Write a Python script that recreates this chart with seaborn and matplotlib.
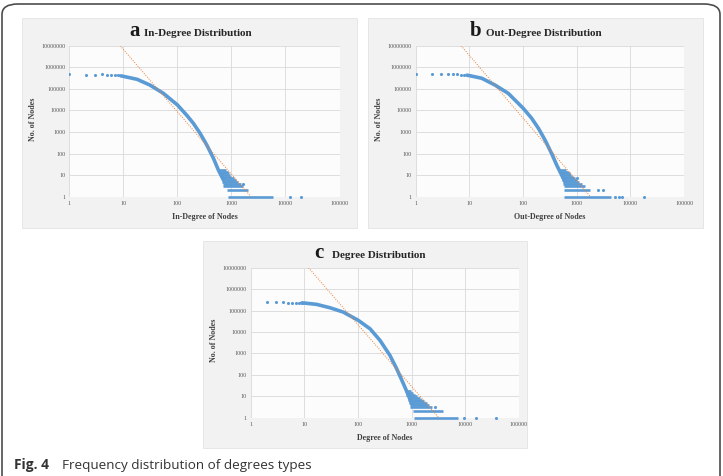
import matplotlib
matplotlib.use("Agg")
import matplotlib.pyplot as plt
import seaborn as sns
from matplotlib.patches import FancyBboxPatch

W, H = 723, 476
BLUE = "#5b9bd5"
ORANGE = "#ed7d31"

# ---- panel a : in-degree ----
a_head_x = [1, 2, 3, 4, 5, 6, 7, 8]
a_head_y = [470000, 460000, 450000, 480000, 450000, 440000, 430000, 420000]
a_curve_x = [9, 10, 18, 31, 55, 100, 148, 198, 263, 350, 465, 575, 710]
a_curve_y = [400000, 380000, 276000, 150000, 62000, 18000, 6100, 2500, 870, 250, 60, 17, 6]
a_tail_level = [1, 2, 3, 4, 5, 6, 7, 8, 10, 12, 14, 17]
a_tail_from = [860, 820, 700, 690, 680, 670, 660, 650, 630, 610, 590, 570]
a_tail_to = [5900, 2060, 1650, 1500, 1350, 1200, 1100, 1000, 950, 900, 850, 800]
a_extra_x = [12000, 19500, 1650]
a_extra_y = [1, 1, 4]
a_trend_x = [8.7, 2300]
a_trend_y = [10000000, 1]

# ---- panel b : out-degree ----
b_head_x = [1, 2, 3, 4, 5, 6, 7, 8]
b_head_y = [500000, 500000, 490000, 480000, 470000, 470000, 460000, 450000]
b_curve_x = [9, 10, 17, 30, 53, 101, 145, 194, 257, 340, 425, 525, 605]
b_curve_y = [430000, 410000, 310000, 150000, 62000, 12500, 4300, 1470, 425, 102, 29, 10, 5]
b_tail_level = [1, 2, 3, 4, 5, 6, 7, 8, 10, 12, 14, 17]
b_tail_from = [590, 590, 570, 560, 550, 540, 530, 520, 505, 490, 475, 460]
b_tail_to = [4400, 1800, 1400, 1250, 1100, 1000, 930, 870, 800, 740, 690, 640]
b_extra_x = [5200, 6100, 7000, 18200, 2500, 3150, 1000]
b_extra_y = [1, 1, 1, 1, 2, 2, 7]
b_trend_x = [7.0, 1800]
b_trend_y = [10000000, 1]

# ---- panel c : total degree ----
c_head_x = [2, 3, 4, 5, 6, 7, 8, 9]
c_head_y = [240000, 240000, 240000, 235000, 235000, 232000, 230000, 228000]
c_curve_x = [9, 10, 17, 30, 53, 101, 168, 257, 393, 525, 700, 870, 1000]
c_curve_y = [228000, 224000, 194000, 135000, 85000, 35000, 14000, 4050, 810, 193, 39, 11, 4.5]
c_tail_level = [1, 2, 3, 4, 5, 6, 7, 8, 10, 12, 14, 17]
c_tail_from = [1100, 1050, 950, 930, 910, 890, 870, 850, 820, 800, 780, 750]
c_tail_to = [7400, 3900, 2400, 2100, 1900, 1700, 1550, 1400, 1250, 1150, 1050, 980]
c_extra_x = [9600, 15500, 37000, 2700]
c_extra_y = [1, 1, 1, 3]
c_trend_x = [11.9, 3200]
c_trend_y = [10000000, 1]

x_ticks = [1, 10, 100, 1000, 10000, 100000]
y_ticks = [1, 10, 100, 1000, 10000, 100000, 1000000, 10000000]

sns.set_style("whitegrid")
plt.rcParams["font.family"] = ["Liberation Serif", "DejaVu Serif"]


def fx(x):
    return x / W


def fy(y):
    return 1 - y / H


def draw_panel(ax, head_x, head_y, curve_x, curve_y, lvl, lo, hi, ex_x, ex_y, tr_x, tr_y):
    ax.set_facecolor("#fcfcfc")
    ax.set_xscale("log")
    ax.set_yscale("log")
    ax.set_xlim(1, 100000)
    ax.set_ylim(1, 10000000)
    ax.hlines(lvl, lo, hi, color=BLUE, lw=1.9, clip_on=False, zorder=3)
    sns.lineplot(x=curve_x, y=curve_y, ax=ax, color=BLUE, lw=2.6, sort=False,
                 estimator=None, zorder=3)
    sns.scatterplot(x=head_x, y=head_y, ax=ax, color=BLUE, s=5, linewidth=0, zorder=3)
    sns.scatterplot(x=ex_x, y=ex_y, ax=ax, color=BLUE, s=5, linewidth=0, zorder=3,
                    clip_on=False)
    sns.lineplot(x=tr_x, y=tr_y, ax=ax, color=ORANGE, lw=0.7, linestyle=(0, (1, 1.5)),
                 zorder=4)
    ax.set_xticks(x_ticks)
    ax.set_xticklabels([str(t) for t in x_ticks])
    ax.set_yticks(y_ticks)
    ax.set_yticklabels([str(t) for t in y_ticks])
    ax.minorticks_off()
    ax.tick_params(length=0, labelsize=4.3, colors="#595959", pad=3)
    ax.grid(True, color="#d9d9d9", lw=0.6)
    for s in ax.spines.values():
        s.set_visible(False)
    ax.set_xlabel("")
    ax.set_ylabel("")


fig = plt.figure(figsize=(W / 100, H / 100), dpi=100)

# outer frame (open at the bottom)
fig.patches.append(FancyBboxPatch((fx(2), fy(H + 30)), fx(718), (H + 26) / H,
                                  boxstyle="round,pad=0,rounding_size=0.022",
                                  transform=fig.transFigure, facecolor="none",
                                  edgecolor="#4d4d4d", lw=1.2, zorder=-2))

panels = [
    # box (x0, y0, x1, y1), axes (x0, y0, x1, y1), letter, title, xlabel
    ((22, 18, 357, 228), (69.3, 45.7, 339.5, 196.7), "a", "In-Degree Distribution",
     "In-Degree of Nodes",
     (a_head_x, a_head_y, a_curve_x, a_curve_y, a_tail_level, a_tail_from, a_tail_to,
      a_extra_x, a_extra_y, a_trend_x, a_trend_y), 135, 144, 31),
    ((368, 18, 703, 228), (415.7, 45.7, 684, 196.7), "b", "Out-Degree Distribution",
     "Out-Degree of Nodes",
     (b_head_x, b_head_y, b_curve_x, b_curve_y, b_tail_level, b_tail_from, b_tail_to,
      b_extra_x, b_extra_y, b_trend_x, b_trend_y), 475.5, 485.7, 31),
    ((203, 241, 527, 448), (250.7, 267.7, 519, 417.7), "c", "Degree Distribution",
     "Degree of Nodes",
     (c_head_x, c_head_y, c_curve_x, c_curve_y, c_tail_level, c_tail_from, c_tail_to,
      c_extra_x, c_extra_y, c_trend_x, c_trend_y), 319, 331.7, 254),
]

for box, axr, letter, title, xlabel, data, lx, tx, ty in panels:
    fig.patches.append(FancyBboxPatch((fx(box[0]), fy(box[3])), (box[2] - box[0]) / W,
                                      (box[3] - box[1]) / H, boxstyle="square,pad=0",
                                      transform=fig.transFigure, facecolor="#f2f2f2",
                                      edgecolor="#e3e3e3", lw=0.6, zorder=-1))
    ax = fig.add_axes([fx(axr[0]), fy(axr[3]), (axr[2] - axr[0]) / W, (axr[3] - axr[1]) / H])
    draw_panel(ax, *data)
    fig.text(fx(lx), fy(ty + 4.5), letter, ha="center", va="baseline", fontsize=15,
             weight="bold", color="#1a1a1a")
    fig.text(fx(tx), fy(ty + 4.5), title, ha="left", va="baseline", fontsize=8,
             weight="bold", color="#262626")
    cx = (axr[0] + axr[2]) / 2
    cy = (axr[1] + axr[3]) / 2
    fig.text(fx(cx), fy(axr[3] + 20), xlabel, ha="center", va="center", fontsize=5.8,
             weight="bold", color="#404040")
    fig.text(fx(axr[0] - 36.5), fy(cy - 2), "No. of Nodes", ha="center", va="center",
             rotation=90, fontsize=5.8, weight="bold", color="#404040")

fig.text(fx(14), fy(469), "Fig. 4", ha="left", va="baseline", fontsize=9.9, weight="bold",
         family="Open Sans", color="#333333")
fig.text(fx(62), fy(469), "Frequency distribution of degrees types", ha="left",
         va="baseline", fontsize=9.7, family="Open Sans", color="#333333")

fig.savefig("out.png", dpi=100, facecolor="white")
